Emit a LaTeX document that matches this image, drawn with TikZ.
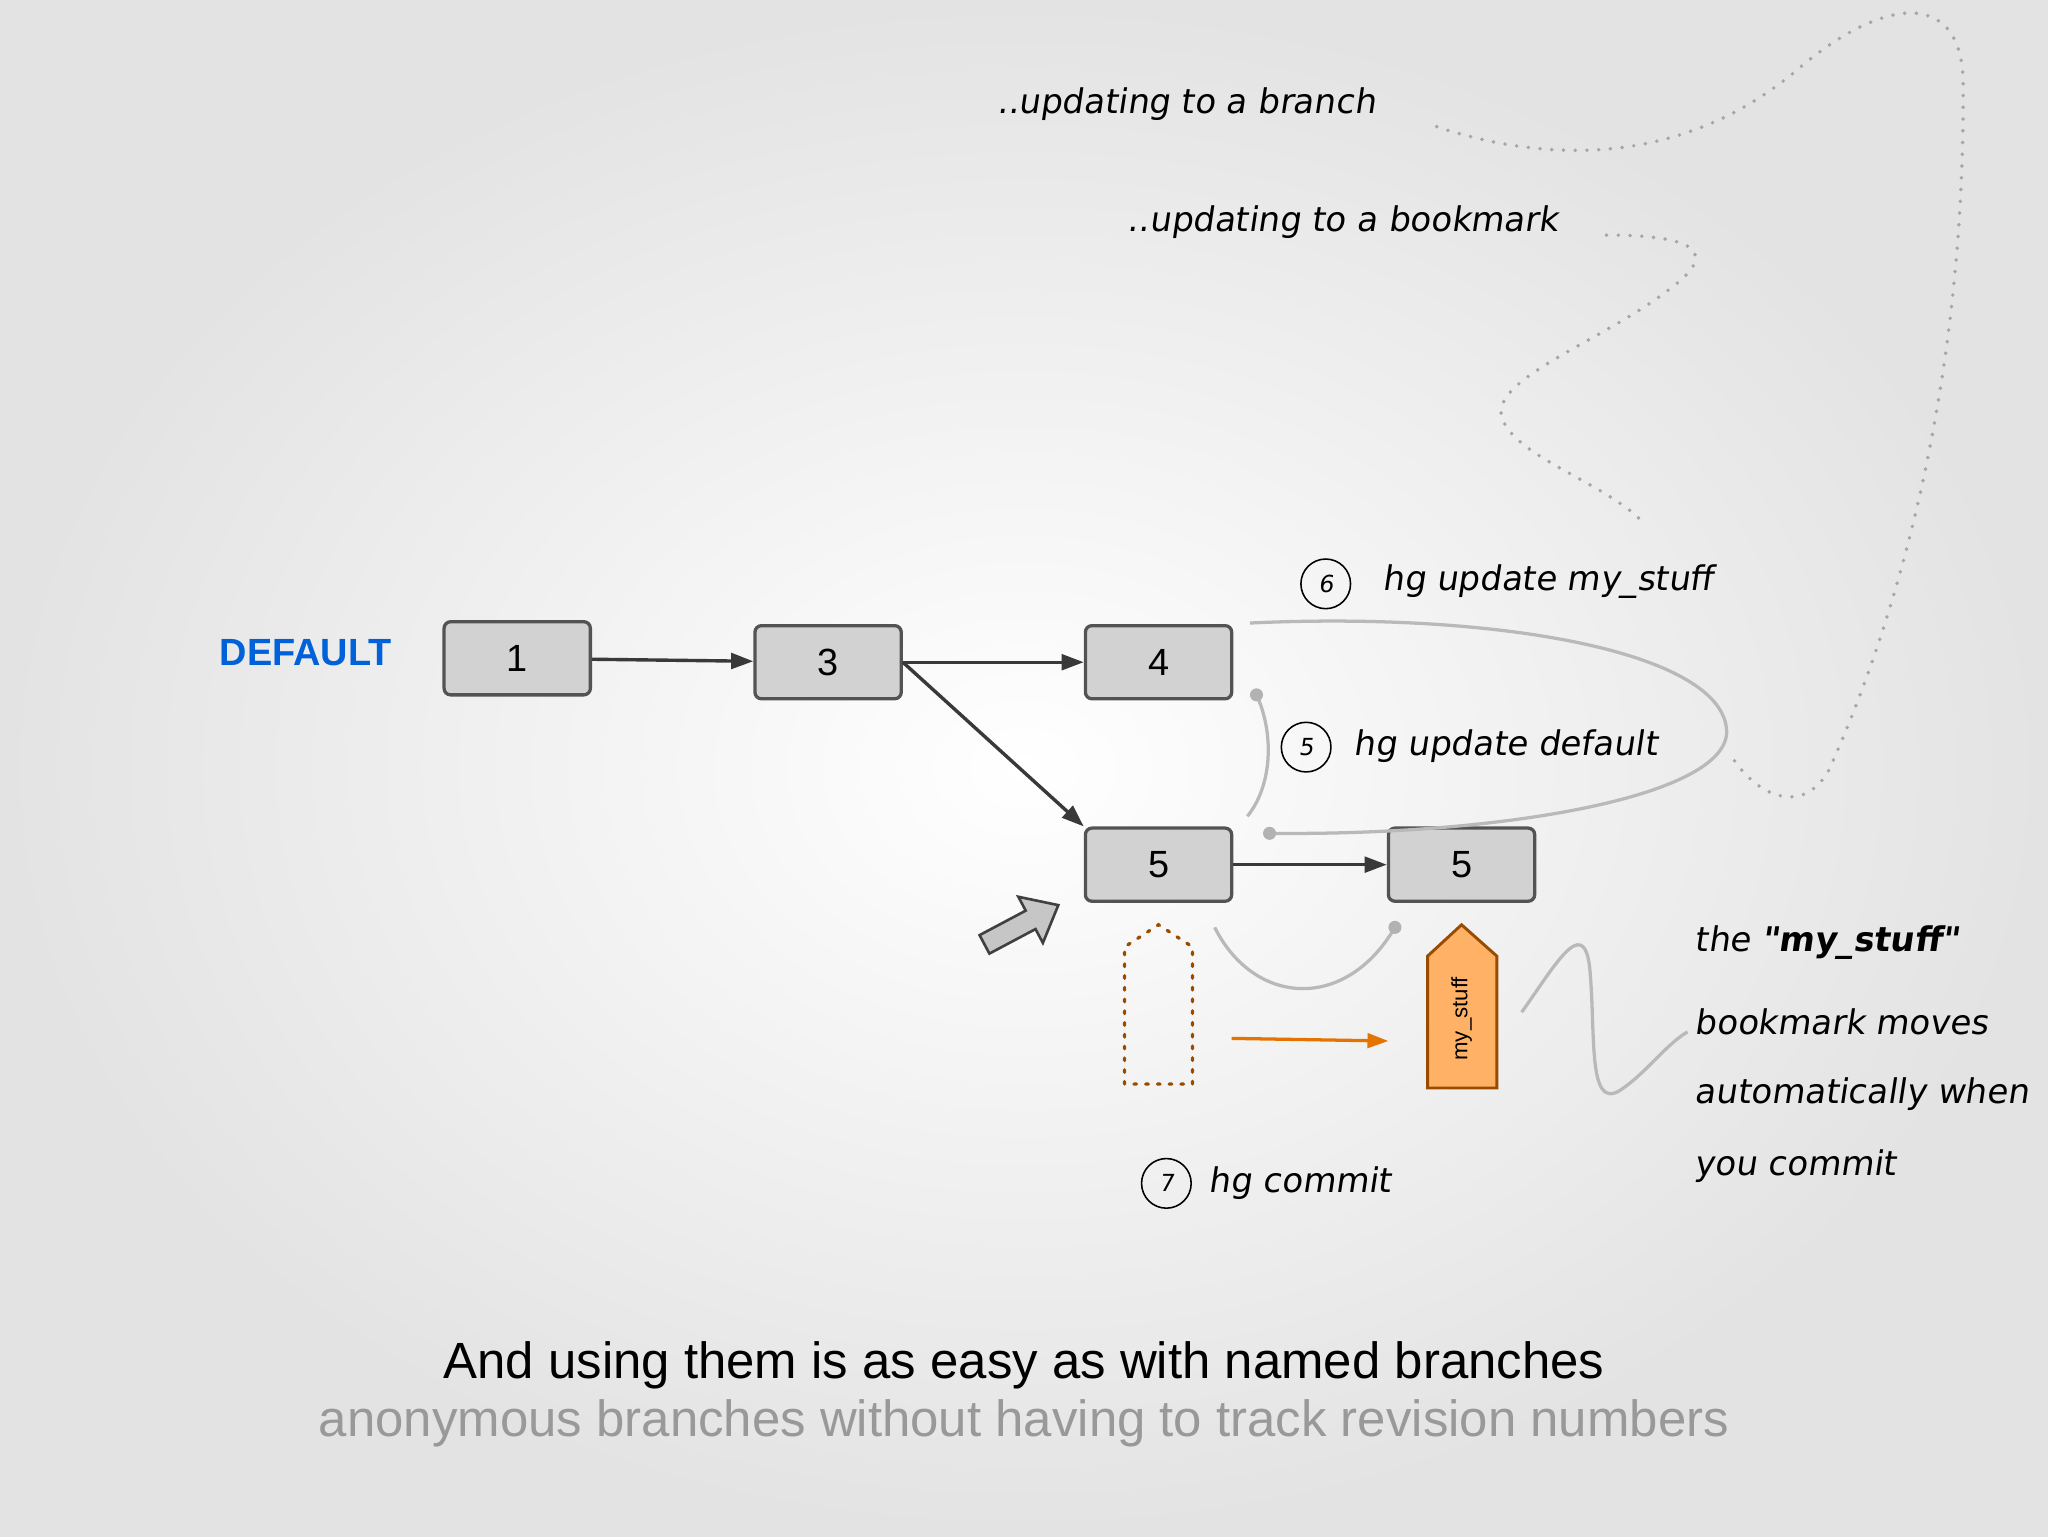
\documentclass[tikz,border=0pt]{standalone}
\usepackage{fontspec}
\setmainfont{Liberation Sans}
\newfontfamily\hand{DejaVu Sans}[FakeSlant=0.15]
\usetikzlibrary{arrows.meta,shapes.geometric}
\begin{document}
\begin{tikzpicture}[x=1pt,y=-1pt,
 box/.style={draw=gray!65!black,fill=gray!35,line width=2.5pt,rounded corners=5pt,minimum width=112pt,minimum height=56pt,font=\fontsize{29}{30}\selectfont},
 arr/.style={draw=gray!45!black,line width=2.6pt,-{Triangle[length=17pt,width=12pt]}},
 hw/.style={font=\hand\fontsize{26}{28}\selectfont,anchor=west},
 num/.style={draw=black,circle,line width=1.2pt,inner sep=2pt,minimum size=38pt,font=\hand\fontsize{18}{20}\selectfont},
 lg/.style={draw=gray!55,line width=2.5pt},
 dotl/.style={draw=gray!70,line width=3pt,dash pattern=on 0pt off 9pt,line cap=round}]
\shade[inner color=white,outer color=gray!22] (0,0) rectangle (1568,1176);
\useasboundingbox (0,0) rectangle (1568,1176);
\node[font=\bfseries\fontsize{29}{30}\selectfont,text=blue!55!cyan!85!black] (def) at (234,500) {DEFAULT};
\node[box] (b1) at (396,504) {1};
\node[box] (b3) at (634,507) {3};
\node[box] (b4) at (887,507) {4};
\node[box] (b5) at (887,662) {5};
\node[box] (b6) at (1119,662) {5};
\draw[arr] (b1) -- (b3);
\draw[arr] (b3) -- (b4);
\draw[arr] (b3.east) -- (b5.north west);
\draw[arr] (b5) -- (b6);
% block arrow
\draw[fill=gray!45,draw=gray!50!black,line width=2pt,rotate around={28:(782,708)}]
 (750,700) -- (790,700) -- (790,688) -- (814,708) -- (790,728) -- (790,716) -- (750,716) -- cycle;
% dotted placeholder
\draw[orange!60!black,line width=2.5pt,dash pattern=on 2pt off 7pt,line cap=round]
 (861,830) -- (861,725) -- (887,708) -- (913,725) -- (913,830) -- cycle;
\coordinate (oa) at (943,795);
\coordinate (ob) at (1063,797);
\draw[orange!90!black,line width=2.5pt,-{Triangle[length=16pt,width=11pt]}] (oa) -- (ob);
% bookmark
\draw[fill=orange!60,draw=orange!60!black,line width=2.2pt]
 (1093,833) -- (1093,732) -- (1119,708) -- (1146,732) -- (1146,833) -- cycle;
\node[rotate=90,font=\fontsize{17}{18}\selectfont] (bm) at (1119,780) {my\_stuff};
% commit curve
\coordinate (c1) at (930,710); \coordinate (c2) at (1068,710);
\draw[lg] (c1) .. controls (960,770) and (1030,775) .. (c2);
\fill[gray!60] (c2) circle (5pt);
% ellipse curve
\coordinate (e1) at (957,477); \coordinate (e2) at (972,638);
\draw[lg] (e1) .. controls (1150,468) and (1320,500) .. (1322,560)
 .. controls (1322,610) and (1150,640) .. (e2);
\fill[gray!60] (e2) circle (5pt);
\coordinate (a1) at (962,532); \coordinate (a2) at (955,625);
\draw[lg] (a1) .. controls (975,560) and (975,600) .. (a2);
\fill[gray!60] (a1) circle (5pt);
% dotted curves
\draw[dotl] (1100,97) .. controls (1200,130) and (1300,120) .. (1380,50)
 .. controls (1440,0) and (1500,-10) .. (1503,60)
 .. controls (1505,300) and (1450,480) .. (1400,590)
 .. controls (1380,625) and (1345,610) .. (1325,578);
\draw[dotl] (1230,180) .. controls (1290,180) and (1320,190) .. (1280,220)
 .. controls (1230,260) and (1140,290) .. (1150,320)
 .. controls (1160,350) and (1230,370) .. (1258,400);
% wavy
\draw[lg] (1165,775) .. controls (1190,740) and (1212,700) .. (1217,740)
 .. controls (1222,790) and (1215,850) .. (1240,835) .. controls (1260,822) and (1275,800) .. (1292,790);
% handwritten labels
\node[hw] (t1) at (760,80) {..updating to a branch};
\node[hw] (t2) at (860,170) {..updating to a bookmark};
\node[num] (n6) at (1015,447) {6};
\node[hw] (t6) at (1055,445) {hg update my\_stuff};
\node[num] (n5) at (1000,572) {5};
\node[hw] (t5) at (1033,571) {hg update default};
\node[num] (n7) at (893,906) {7};
\node[hw] (t7) at (922,906) {hg commit};
\node[hw] (r1) at (1294,722) {the \textbf{"my\_stuff"}};
\node[hw] (r2) at (1294,782) {bookmark moves};
\node[hw] (r3) at (1294,838) {automatically when};
\node[hw] (r4) at (1294,893) {you commit};
\node[font=\fontsize{39}{40}\selectfont] (m1) at (784,1045) {And using them is as easy as with named branches};
\node[font=\fontsize{39}{40}\selectfont,text=gray!80] (m2) at (784,1090) {anonymous branches without having to track revision numbers};
\end{tikzpicture}
\end{document}
